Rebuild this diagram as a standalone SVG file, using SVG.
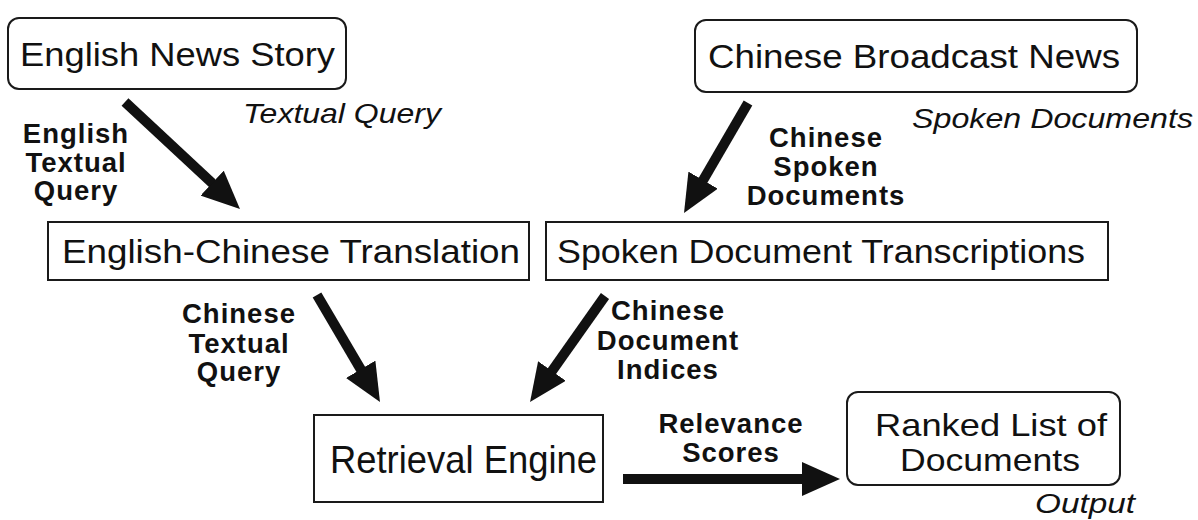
<svg xmlns="http://www.w3.org/2000/svg" width="1198" height="520" viewBox="0 0 1198 520">
  <style>
    .box { fill: #fff; stroke: #1a1a1a; stroke-width: 2; }
    .name { font-family: "Liberation Sans", Arial, sans-serif; font-size: 34px; fill: #111; }
    .tall { font-size: 39px; }
    .pair { font-size: 32px; }
    .tag { font-family: "Liberation Sans", Arial, sans-serif; font-size: 28px; font-style: italic; fill: #111; }
    .flow { font-family: "Liberation Sans", Arial, sans-serif; font-size: 27.5px; letter-spacing: 1px; font-weight: bold; fill: #111; text-anchor: middle; }
    .conn { stroke: #111; stroke-width: 10; fill: none; marker-end: url(#head); }
  </style>
  <defs>
    <marker id="head" viewBox="0 0 10 10" refX="3" refY="5" markerWidth="3.8" markerHeight="3.4" markerUnits="strokeWidth" orient="auto" preserveAspectRatio="none">
      <path d="M0,0 L10,5 L0,10 z" fill="#111"/>
    </marker>
  </defs>
  <rect width="1198" height="520" fill="#fff"/>

  <!-- sources -->
  <g id="english-news-story">
    <rect class="box" x="8" y="18" width="338" height="71" rx="11"/>
    <text class="name" x="20" y="66" textLength="315" lengthAdjust="spacingAndGlyphs">English News Story</text>
    <text class="tag" x="243" y="123" textLength="198" lengthAdjust="spacingAndGlyphs">Textual Query</text>
  </g>
  <g id="chinese-broadcast-news">
    <rect class="box" x="695" y="20" width="442" height="72" rx="11"/>
    <text class="name" x="708" y="68" textLength="412" lengthAdjust="spacingAndGlyphs">Chinese Broadcast News</text>
    <text class="tag" x="912" y="128" textLength="281" lengthAdjust="spacingAndGlyphs">Spoken Documents</text>
  </g>

  <!-- processing stages -->
  <g id="translation">
    <rect class="box" x="48" y="222" width="481" height="58"/>
    <text class="name" x="62" y="263" textLength="458" lengthAdjust="spacingAndGlyphs">English-Chinese Translation</text>
  </g>
  <g id="transcriptions">
    <rect class="box" x="546" y="222" width="562" height="58"/>
    <text class="name" x="557" y="263" textLength="528" lengthAdjust="spacingAndGlyphs">Spoken Document Transcriptions</text>
  </g>
  <g id="retrieval-engine">
    <rect class="box" x="314" y="415" width="289" height="87"/>
    <text class="name tall" x="330" y="473" textLength="267" lengthAdjust="spacingAndGlyphs">Retrieval Engine</text>
  </g>
  <g id="ranked-list">
    <rect class="box" x="847" y="392" width="273" height="93" rx="11"/>
    <text class="name pair" x="875" y="436" textLength="232" lengthAdjust="spacingAndGlyphs">Ranked List of</text>
    <text class="name pair" x="900" y="471" textLength="180" lengthAdjust="spacingAndGlyphs">Documents</text>
    <text class="tag" x="1035" y="513" textLength="100" lengthAdjust="spacingAndGlyphs">Output</text>
  </g>

  <!-- connectors -->
  <g id="connectors">
    <line class="conn" x1="125" y1="102" x2="220.5" y2="190.9"/>
    <line class="conn" x1="748" y1="103" x2="697.4" y2="190"/>
    <line class="conn" x1="317" y1="295" x2="366.5" y2="379.1"/>
    <line class="conn" x1="605" y1="296" x2="545.4" y2="380.3"/>
    <line class="conn" x1="623" y1="479" x2="813.4" y2="479"/>
  </g>

  <!-- connector labels -->
  <g id="labels">
    <text class="flow" x="76" y="143">English</text>
    <text class="flow" x="76" y="172">Textual</text>
    <text class="flow" x="76" y="200">Query</text>
    <text class="flow" x="826" y="147">Chinese</text>
    <text class="flow" x="826" y="176">Spoken</text>
    <text class="flow" x="826" y="205">Documents</text>
    <text class="flow" x="239" y="323">Chinese</text>
    <text class="flow" x="239" y="353">Textual</text>
    <text class="flow" x="239" y="381">Query</text>
    <text class="flow" x="668" y="320">Chinese</text>
    <text class="flow" x="668" y="350">Document</text>
    <text class="flow" x="668" y="379">Indices</text>
    <text class="flow" x="731" y="433">Relevance</text>
    <text class="flow" x="731" y="462">Scores</text>
  </g>
</svg>
